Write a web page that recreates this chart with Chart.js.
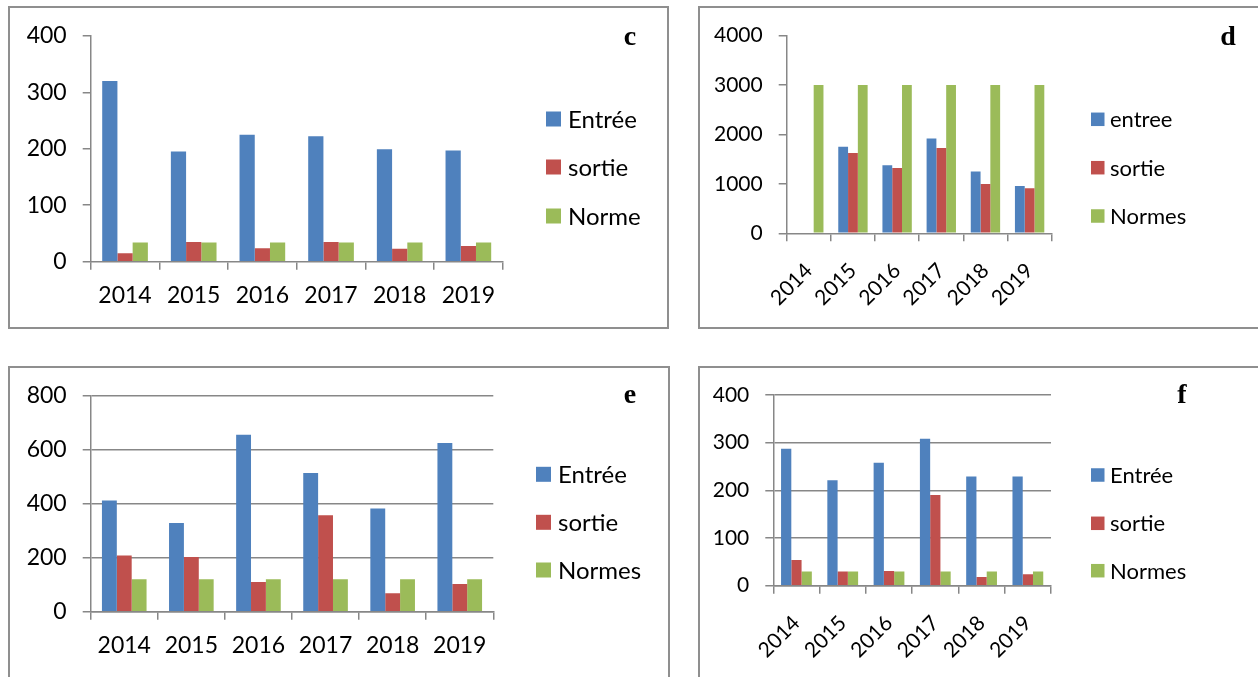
<!DOCTYPE html>
<html><head><meta charset="utf-8">
<script src="https://cdn.jsdelivr.net/npm/chart.js@4.4.1/dist/chart.umd.min.js"></script>
<style>
html,body{margin:0;padding:0;background:#fff;width:1258px;height:677px;overflow:hidden;position:relative;}
.panel{position:absolute;border:2px solid #8f8f8f;box-sizing:border-box;}
canvas{position:absolute;}
.letter{position:absolute;font:bold 28px 'Liberation Serif';line-height:28px;transform:translateX(-50%);color:#000;}
</style></head><body>
<div class="panel" style="left:8px;top:6px;width:661px;height:323px"></div>
<div class="panel" style="left:698px;top:6px;width:570px;height:323px"></div>
<div class="panel" style="left:8px;top:366px;width:662px;height:330px"></div>
<div class="panel" style="left:698px;top:366px;width:570px;height:330px"></div>
<canvas id="cc" width="661" height="323" style="left:8px;top:6px"></canvas>
<canvas id="cd" width="560" height="323" style="left:698px;top:6px"></canvas>
<canvas id="ce" width="662" height="324" style="left:8px;top:366px"></canvas>
<canvas id="cf" width="560" height="324" style="left:698px;top:366px"></canvas>
<div class="letter" style="left:630px;top:22px">c</div>
<div class="letter" style="left:1228px;top:22px">d</div>
<div class="letter" style="left:630px;top:380px">e</div>
<div class="letter" style="left:1182px;top:380px">f</div>
<script>
// ---- data ----
const years = ['2014', '2015', '2016', '2017', '2018', '2019'];

const cNames  = ['Entrée', 'sortie', 'Norme'];
const cEntree = [320, 195, 225, 222, 199, 197];
const cSortie = [15, 35, 24, 35, 23, 28];
const cNorme  = [34, 34, 34, 34, 34, 34];
const cTicks  = [0, 100, 200, 300, 400];

const dNames  = ['entree', 'sortie', 'Normes'];
const dEntree = [null, 1750, 1380, 1920, 1250, 960];
const dSortie = [null, 1625, 1320, 1725, 1000, 910];
const dNormes = [3000, 3000, 3000, 3000, 3000, 3000];
const dTicks  = [0, 1000, 2000, 3000, 4000];

const eNames  = ['Entrée', 'sortie', 'Normes'];
const eEntree = [412, 329, 656, 514, 382, 625];
const eSortie = [208, 203, 110, 357, 68, 103];
const eNormes = [120, 120, 120, 120, 120, 120];
const eTicks  = [0, 200, 400, 600, 800];

const fNames  = ['Entrée', 'sortie', 'Normes'];
const fEntree = [287, 221, 258, 308, 229, 229];
const fSortie = [54, 30, 31, 190, 18, 24];
const fNormes = [30, 30, 30, 30, 30, 30];
const fTicks  = [0, 100, 200, 300, 400];

// ---- styles ----
const colors = ['#4F81BD', '#C0504D', '#9BBB59'];
const axisColor = '#878787';
const FONT = "Lato";

const sideLegend = {
  id: 'sideLegend',
  afterDraw(chart, args, o) {
    const ctx = chart.ctx;
    ctx.save();
    ctx.font = o.size + 'px ' + FONT;
    ctx.textBaseline = 'middle';
    ctx.textAlign = 'left';
    chart.data.datasets.forEach((ds, i) => {
      const y = o.rows[i];
      ctx.fillStyle = ds.backgroundColor;
      ctx.fillRect(o.boxX, y - o.box / 2, o.box, o.box);
      ctx.fillStyle = '#000';
      ctx.fillText(ds.label, o.textX, y + 1);
    });
    ctx.restore();
  }
};

function makeChart(id, cv, plot, names, series, ticks, opt) {
  const Wy = 75, Hx = opt.rot ? 80 : 60;
  const pad = {
    left: plot.l - cv.x - Wy,
    top: plot.t - cv.y,
    right: cv.x + cv.w - plot.r,
    bottom: cv.y + cv.h - plot.b - Hx
  };
  new Chart(document.getElementById(id), {
    type: 'bar',
    data: {
      labels: years,
      datasets: series.map((s, i) => ({
        label: names[i], data: s, backgroundColor: colors[i],
        borderWidth: 0, categoryPercentage: 0.665, barPercentage: 1
      }))
    },
    options: {
      responsive: false, animation: false,
      layout: { padding: pad },
      plugins: {
        legend: { display: false }, tooltip: { enabled: false },
        sideLegend: {
          boxX: opt.lg.boxX - cv.x, textX: opt.lg.textX - cv.x,
          rows: opt.lg.rows.map(r => r - cv.y), box: opt.lg.box, size: opt.lg.size
        }
      },
      scales: {
        x: {
          offset: true,
          ticks: { font: { family: FONT, size: opt.xs }, color: '#000', padding: opt.rot ? 17 : 12,
                   autoSkip: false, maxRotation: opt.rot, minRotation: opt.rot },
          grid: { display: true, drawOnChartArea: false, offset: true, color: axisColor, lineWidth: 1.5, tickLength: 8 },
          border: { display: true, color: axisColor, width: 1.5 },
          afterFit: s => { s.height = Hx; }
        },
        y: {
          min: ticks[0], max: ticks[ticks.length - 1],
          ticks: { stepSize: ticks[1] - ticks[0], font: { family: FONT, size: opt.ys }, color: '#000', padding: 16,
                   callback: v => String(v) },
          grid: { display: true, drawOnChartArea: opt.grid, color: axisColor, lineWidth: 1.5, tickLength: 8 },
          border: { display: true, color: axisColor, width: 1.5 },
          afterFit: s => { s.width = Wy; }
        }
      }
    },
    plugins: [sideLegend]
  });
}

makeChart('cc', {x: 8, y: 6, w: 661, h: 323}, {l: 90.7, t: 35.7, r: 502.7, b: 261.7},
  cNames, [cEntree, cSortie, cNorme], cTicks,
  {rot: 0, grid: false, xs: 23, ys: 23, lg: {boxX: 546, textX: 568, rows: [119, 167, 216], box: 15, size: 24}});

makeChart('cd', {x: 698, y: 6, w: 560, h: 323}, {l: 786.7, t: 35.7, r: 1051.7, b: 233.3},
  dNames, [dEntree, dSortie, dNormes], dTicks,
  {rot: 45, grid: false, xs: 21, ys: 21, lg: {boxX: 1091, textX: 1110, rows: [119.3, 167.7, 216], box: 13.5, size: 22}});

makeChart('ce', {x: 8, y: 366, w: 662, h: 324}, {l: 90.7, t: 395, r: 493.3, b: 611.7},
  eNames, [eEntree, eSortie, eNormes], eTicks,
  {rot: 0, grid: true, xs: 23, ys: 23, lg: {boxX: 536, textX: 558, rows: [474.3, 522.3, 570], box: 15, size: 24}});

makeChart('cf', {x: 698, y: 366, w: 560, h: 324}, {l: 773.3, t: 395, r: 1051, b: 585.7},
  fNames, [fEntree, fSortie, fNormes], fTicks,
  {rot: 45, grid: true, xs: 21, ys: 21, lg: {boxX: 1091, textX: 1110, rows: [475, 523.3, 570.7], box: 13.5, size: 22}});
</script>
</body></html>
